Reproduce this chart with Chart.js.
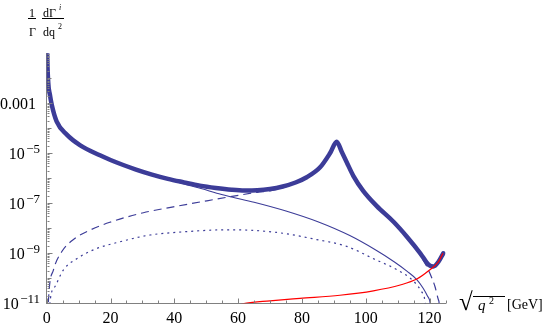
<!DOCTYPE html>
<html>
<head>
<meta charset="utf-8">
<script src="https://cdn.jsdelivr.net/npm/chart.js@4.4.0/dist/chart.umd.min.js"></script>
<style>
body { margin: 0; background: #fff; }
#contenedor { position: relative; width: 545px; height: 327px; font-family: 'Liberation Serif', 'Times New Roman', serif; }
#grafico { position: absolute; left: 0; top: 0; }
.t { position: absolute; line-height: 1; white-space: nowrap; color: #000; }
.barra { position: absolute; height: 0; border-top: 1px solid #000; }
</style>
</head>
<body>
<div id="contenedor">
  <canvas id="grafico" width="545" height="327"></canvas>
  <!-- titulo del eje y: 1/Γ dΓ^i/dq^2 -->
  <span class="t" style="left:29px;top:7px;font-size:12px">1</span>
  <div class="barra" style="left:28px;top:18px;width:8px"></div>
  <span class="t" style="left:29px;top:26px;font-size:12px">Γ</span>
  <span class="t" style="left:43px;top:7px;font-size:12px">dΓ</span>
  <span class="t" style="left:59px;top:4px;font-size:8px;font-style:italic">i</span>
  <div class="barra" style="left:42px;top:18px;width:22px"></div>
  <span class="t" style="left:43px;top:26px;font-size:12px">dq</span>
  <span class="t" style="left:58px;top:23px;font-size:8px">2</span>
  <!-- titulo del eje x: sqrt(q^2) [GeV] -->
  <span class="t" style="left:459px;top:289px;font-size:25px">√</span>
  <div class="barra" style="left:473px;top:296px;width:32px"></div>
  <span class="t" style="left:478px;top:298px;font-size:15px;font-style:italic">q</span>
  <span class="t" style="left:489px;top:296px;font-size:10px">2</span>
  <span class="t" style="left:507px;top:298px;font-size:14px">[GeV]</span>
</div>
<script>
// datos (x en GeV, y en 1/Γ dΓ/dq²)
const xTotal = [0.05, 0.15, 0.5, 1.0, 1.6, 3.1, 6.3, 10.4, 16.7, 20, 24, 28, 33, 38, 43, 48, 53, 58, 62, 66, 70, 74, 78, 81.5, 85.7, 88.8, 90.9, 92.5, 94, 96.1, 99.2, 103.4, 108.7, 112.9, 117.1, 119.7, 121.2, 122.8, 124.3]
const yTotal = [1, 1e-1, 6.3e-3, 2.24e-3, 8.5e-4, 1.9e-4, 5.6e-5, 2.14e-5, 8.3e-6, 5.4e-6, 3.4e-6, 2.24e-6, 1.41e-6, 9.5e-7, 6.9e-7, 5.1e-7, 4.1e-7, 3.47e-7, 3.24e-7, 3.3e-7, 3.7e-7, 4.7e-7, 6.8e-7, 1.1e-6, 2.75e-6, 1.0e-5, 2.9e-5, 1.12e-5, 4.5e-6, 1.26e-6, 3.16e-7, 7.9e-8, 1.82e-8, 4.6e-9, 1.0e-9, 3.5e-10, 2.95e-10, 4.6e-10, 1.0e-9]

const xFoton = [0.05, 0.15, 0.5, 1.0, 1.6, 3.1, 6.3, 10.4, 16.7, 24, 33, 43, 49, 53.3, 58, 65, 75, 85, 95, 103, 109, 113, 116, 118, 119.3, 120.2, 120.6]
const yFoton = [1, 1e-1, 6.3e-3, 2.24e-3, 8.5e-4, 1.9e-4, 5.6e-5, 2.14e-5, 8.3e-6, 3.3e-6, 1.38e-6, 6.0e-7, 3.7e-7, 2.51e-7, 1.78e-7, 1.1e-7, 4.9e-8, 1.82e-8, 5.1e-9, 1.38e-9, 4.5e-10, 1.9e-10, 8.9e-11, 4.0e-11, 2.0e-11, 1e-11, 2.5e-12]

const xZ = [0.3, 0.5, 2.1, 4.7, 8.9, 13.6, 19.8, 30.3, 39.7, 50.2, 60.6, 66, 70, 74, 78, 81.5, 85.7, 88.8, 90.9, 92.5, 94, 96.1, 99.2, 103.4, 108.7, 112.9, 117.1, 119, 120.1, 121.7, 122.8, 123, 123.2]
const yZ = [1e-12, 1e-11, 2.14e-10, 1.15e-9, 4.0e-9, 8.5e-9, 1.74e-8, 4.2e-8, 7.2e-8, 1.26e-7, 2.14e-7, 2.75e-7, 3.16e-7, 4.2e-7, 6.4e-7, 1.07e-6, 2.7e-6, 9.5e-6, 2.75e-5, 1.07e-5, 4.3e-6, 1.2e-6, 3.0e-7, 7.6e-8, 1.7e-8, 4.2e-9, 8.3e-10, 3.16e-10, 1.58e-10, 4.7e-11, 1.35e-11, 1e-11, 1e-12]

const xInterf = [0.7, 1.0, 2.6, 5.2, 9.9, 15.1, 23, 32.4, 42.8, 52.2, 58, 65.8, 74.2, 84.6, 94, 103, 109.7, 114.9, 117.6, 118.6, 118.9]
const yInterf = [1e-12, 1e-11, 4.7e-11, 2.14e-10, 6.6e-10, 1.45e-9, 2.9e-9, 5.4e-9, 7.2e-9, 8.5e-9, 8.7e-9, 8.1e-9, 6.3e-9, 3.55e-9, 1.9e-9, 5.6e-10, 2.24e-10, 7.9e-11, 2.8e-11, 1e-11, 1e-12]

const xRojo = [59.5, 62.2, 70, 79.4, 91.9, 102.4, 110.8, 116, 119.7, 122.8, 124.2]
const yRojo = [7.9e-12, 1e-11, 1.26e-11, 1.58e-11, 2.1e-11, 3.16e-11, 5.4e-11, 9.3e-11, 2.0e-10, 4.6e-10, 1.0e-9]

// etiquetas de los ejes
const xTicks = [0, 20, 40, 60, 80, 100, 120]
const yTicksExp = [-3, -5, -7, -9, -11]
const yTicksTexto = ['0.001', '10', '10', '10', '10']
const yTicksSup = ['', '−5', '−7', '−9', '−11']

const azul = '#3c3c98'
const rojo = '#ff0000'
const gris = '#808080'
const fuente = "'Liberation Serif', 'Times New Roman', serif"

const aPuntos = (xs, ys) => xs.map((x, i) => ({ x, y: ys[i] }))

// marcas hacia dentro y etiquetas de los ejes
const ejesPlugin = {
    id: 'ejes',
    afterDraw(chart) {
        const { ctx, scales: { x, y } } = chart
        const base = Math.round(y.bottom) + 0.5
        const izq = Math.round(x.left) + 0.5
        ctx.save()
        ctx.strokeStyle = gris
        ctx.lineWidth = 1
        ctx.beginPath()
        for (let v = 0; v <= 125; v += 5) {
            const px = Math.round(x.getPixelForValue(v)) + 0.5
            const largo = v % 20 === 0 ? 5 : 3
            ctx.moveTo(px, base)
            ctx.lineTo(px, base - largo)
        }
        for (let e = -11; e <= -2; e++) {
            for (let m = 1; m <= 9; m++) {
                const py = Math.round(y.getPixelForValue(m * Math.pow(10, e))) + 0.5
                const largo = m === 1 ? (e % 2 !== 0 ? 5 : 4) : 2
                ctx.moveTo(izq, py)
                ctx.lineTo(izq + largo, py)
            }
        }
        ctx.stroke()

        ctx.fillStyle = '#000'
        ctx.textBaseline = 'alphabetic'
        ctx.font = `16px ${fuente}`
        ctx.textAlign = 'center'
        xTicks.forEach(v => {
            ctx.fillText(String(v), x.getPixelForValue(v), 323)
        })

        const derecha = 40
        yTicksExp.forEach((e, i) => {
            const py = y.getPixelForValue(Math.pow(10, e))
            if (yTicksSup[i] === '') {
                ctx.font = `16px ${fuente}`
                ctx.textAlign = 'right'
                ctx.fillText(yTicksTexto[i], 36, py + 5.5)
                return
            }
            ctx.font = `13px ${fuente}`
            const anchoSup = ctx.measureText(yTicksSup[i]).width
            ctx.textAlign = 'left'
            ctx.fillText(yTicksSup[i], derecha - anchoSup, py - 0.5)
            ctx.font = `16px ${fuente}`
            ctx.textAlign = 'right'
            ctx.fillText(yTicksTexto[i], derecha - anchoSup - 1.5, py + 5.5)
        })
        ctx.restore()
    }
}

const ctx = document.getElementById('grafico')

new Chart(ctx, {
    type: 'line',
    data: {
        datasets: [
            {
                label: 'rojo',
                data: aPuntos(xRojo, yRojo),
                borderColor: rojo,
                borderWidth: 1.2,
                cubicInterpolationMode: 'monotone'
            },
            {
                label: 'total',
                data: aPuntos(xTotal, yTotal),
                borderColor: azul,
                borderWidth: 4.5,
                borderCapStyle: 'round',
                borderJoinStyle: 'round',
                cubicInterpolationMode: 'monotone'
            },
            {
                label: 'foton',
                data: aPuntos(xFoton, yFoton),
                borderColor: azul,
                borderWidth: 1.1,
                cubicInterpolationMode: 'monotone'
            },
            {
                label: 'Z',
                data: aPuntos(xZ, yZ),
                borderColor: azul,
                borderWidth: 1.2,
                borderDash: [8, 5],
                cubicInterpolationMode: 'monotone'
            },
            {
                label: 'interferencia',
                data: aPuntos(xInterf, yInterf),
                borderColor: azul,
                borderWidth: 1.2,
                borderDash: [2, 4],
                cubicInterpolationMode: 'monotone'
            }
        ]
    },
    options: {
        responsive: false,
        animation: false,
        devicePixelRatio: 1,
        elements: { point: { radius: 0 } },
        layout: { padding: { left: 0, top: 53.3, right: 99.5, bottom: 0 } },
        plugins: {
            legend: { display: false },
            tooltip: { enabled: false }
        },
        scales: {
            x: {
                type: 'linear',
                min: 0,
                max: 125,
                grid: { display: false },
                border: { color: gris, width: 1 },
                ticks: { display: false },
                afterFit: (scale) => { scale.height = 23.7 }
            },
            y: {
                type: 'logarithmic',
                min: 1e-11,
                max: 1e-1,
                grid: { display: false },
                border: { color: gris, width: 1 },
                ticks: { display: false },
                afterFit: (scale) => { scale.width = 46.7 }
            }
        }
    },
    plugins: [ejesPlugin]
})
</script>
</body>
</html>
